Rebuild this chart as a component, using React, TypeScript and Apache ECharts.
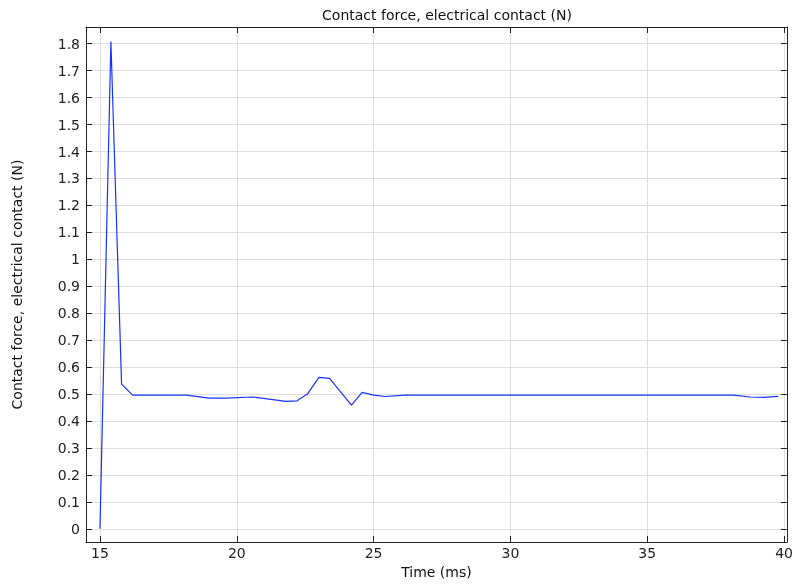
import React, { useEffect, useRef } from "react";
import * as echarts from "echarts";

const timeMs = [15, 15.4, 15.79, 16.19, 18.15, 19.0, 19.6, 20.58, 21.79, 22.2, 22.58, 23.0, 23.39, 24.19, 24.58, 25.0, 25.43, 26.15, 30, 35, 38.15, 38.76, 39.24, 39.79];
const force = [0, 1.808, 0.537, 0.496, 0.496, 0.485, 0.485, 0.489, 0.473, 0.475, 0.5, 0.562, 0.558, 0.459, 0.506, 0.496, 0.491, 0.496, 0.496, 0.496, 0.496, 0.489, 0.488, 0.491];

const xTicks = [15, 20, 25, 30, 35, 40];
const yTicks = [0, 0.1, 0.2, 0.3, 0.4, 0.5, 0.6, 0.7, 0.8, 0.9, 1, 1.1, 1.2, 1.3, 1.4, 1.5, 1.6, 1.7, 1.8];

const FONT = "DejaVu Sans";

export default function App() {
  const ref = useRef<HTMLDivElement>(null);
  useEffect(() => {
    const chart = echarts.init(ref.current!, null, { renderer: "svg" });
    const axisLine = { show: true, onZero: false, lineStyle: { color: "#222", width: 1 } };
    const tick = { show: true, inside: true, length: 6, lineStyle: { color: "#222" } };
    const xBase = { type: "value", min: 14.49, max: 40.1 };
    const yBase = { type: "value", min: -0.049, max: 1.862 };
    chart.setOption({
      animation: false,
      title: {
        text: "Contact force, electrical contact (N)",
        left: 442,
        textAlign: "center",
        top: 3,
        textStyle: { fontFamily: FONT, fontSize: 14, fontWeight: "normal", color: "#111" },
      },
      grid: { left: 86, right: 6, top: 27, bottom: 41 },
      xAxis: [
        {
          ...xBase,
          position: "bottom",
          name: "Time (ms)",
          nameLocation: "middle",
          nameGap: 23,
          nameTextStyle: { fontFamily: FONT, fontSize: 14, color: "#111" },
          axisLine,
          axisTick: { ...tick, customValues: xTicks },
          axisLabel: { customValues: xTicks, fontFamily: FONT, fontSize: 14, color: "#222", margin: 4 },
          splitLine: { show: true, lineStyle: { color: "#dedede", width: 1 } },
        },
        {
          ...xBase,
          position: "top",
          axisLine,
          axisTick: { ...tick, customValues: xTicks },
          axisLabel: { show: false },
          splitLine: { show: false },
        },
      ],
      yAxis: [
        {
          ...yBase,
          position: "left",
          name: "Contact force, electrical contact (N)",
          nameLocation: "middle",
          nameGap: 62,
          nameTextStyle: { fontFamily: FONT, fontSize: 14, color: "#111" },
          axisLine,
          axisTick: { ...tick, customValues: yTicks },
          axisLabel: {
            customValues: yTicks,
            fontFamily: FONT,
            fontSize: 14,
            color: "#222",
            margin: 6,
            formatter: (v: number) => String(Math.round(v * 10) / 10),
          },
          splitLine: { show: true, lineStyle: { color: "#dedede", width: 1 } },
        },
        {
          ...yBase,
          position: "right",
          axisLine,
          axisTick: { ...tick, customValues: yTicks },
          axisLabel: { show: false },
          splitLine: { show: false },
        },
      ],
      series: [
        {
          type: "line",
          data: timeMs.map((t, i) => [t, force[i]]),
          showSymbol: false,
          symbol: "none",
          lineStyle: { color: "#1533ff", width: 1.2 },
          xAxisIndex: 0,
          yAxisIndex: 0,
        },
      ],
    });
    return () => chart.dispose();
  }, []);
  return <div ref={ref} style={{ position: "fixed", left: 0, top: 0, width: 796, height: 584 }} />;
}
